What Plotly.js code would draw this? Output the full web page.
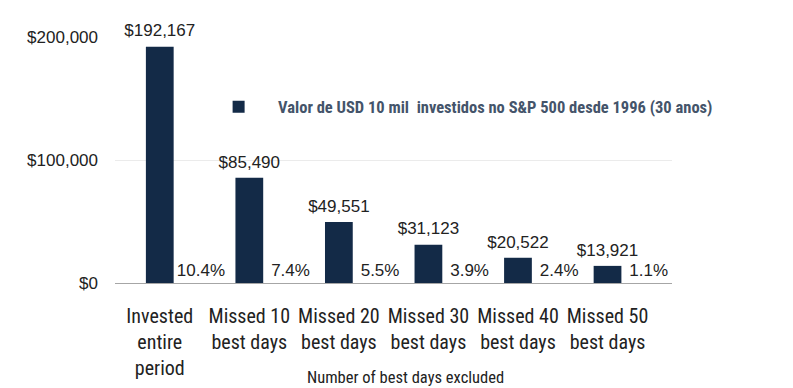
<!DOCTYPE html>
<html>
<head>
<meta charset="utf-8">
<script src="https://cdn.plot.ly/plotly-3.0.1.min.js"></script>
<style>html,body{margin:0;padding:0;background:#fff;}#chart{width:793px;height:388px;}</style>
</head>
<body>
<div id="chart"></div>
<script>
var categories = ["Invested<br>entire<br>period", "Missed 10<br>best days", "Missed 20<br>best days", "Missed 30<br>best days", "Missed 40<br>best days", "Missed 50<br>best days"];
var values = [192167, 85490, 49551, 31123, 20522, 13921];
var returns = [10.4, 7.4, 5.5, 3.9, 2.4, 1.1];
var seriesName = "Valor de USD 10 mil  investidos no S&P 500 desde 1996 (30 anos)";
var yTicks = [0, 100000, 200000];
var yTickText = ["$0", "$100,000", "$200,000"];
var xTitle = "Number of best days excluded";

var navy = "#132a47";
var labelFont = {family: "Liberation Sans, Arial, sans-serif", size: 17, color: "#222222"};

function money(v) { return "$" + v.toLocaleString("en-US"); }

var traces = [
  {
    type: "bar", x: categories, y: values, name: seriesName,
    marker: {color: navy, line: {width: 0}},
    width: 0.31, offset: -0.155,
    hoverinfo: "skip"
  },
  {
    type: "bar", x: categories, y: returns.map(function(r){ return r / 100; }),
    text: returns.map(function(r){ return r.toFixed(1) + "%"; }),
    textposition: "outside", constraintext: "none", cliponaxis: false,
    textfont: labelFont, outsidetextfont: labelFont,
    marker: {color: "rgba(0,0,0,0)", line: {width: 0}},
    width: 0.52, offset: 0.2, showlegend: false, hoverinfo: "skip"
  },
  {
    type: "scatter", mode: "markers+text", x: categories, y: values,
    text: values.map(money), textposition: "top center", textfont: labelFont,
    marker: {size: 8, opacity: 0}, cliponaxis: false,
    showlegend: false, hoverinfo: "skip"
  }
];

var layout = {
  width: 793, height: 388,
  margin: {l: 115, r: 121, t: 37, b: 105},
  paper_bgcolor: "#ffffff", plot_bgcolor: "#ffffff",
  barmode: "overlay",
  showlegend: true,
  legend: {
    x: 0.151, y: 0.786, xanchor: "left", yanchor: "top",
    itemwidth: 69, bgcolor: "rgba(0,0,0,0)",
    font: {family: "Roboto Condensed, Liberation Sans Narrow, Roboto, sans-serif", size: 16.5, color: "#44546a", weight: "bold"}
  },
  xaxis: {
    type: "category", showgrid: false, zeroline: false,
    showline: true, linecolor: "#a6a6a6", linewidth: 1,
    ticks: "", tickangle: 0, automargin: false, ticklabelstandoff: 15,
    tickfont: {family: "Roboto Condensed, Liberation Sans Narrow, sans-serif", size: 20, color: "#222222"},
    fixedrange: true
  },
  yaxis: {
    range: [0, 200000], tickvals: yTicks, ticktext: yTickText,
    showgrid: true, gridcolor: "#ebebeb", gridwidth: 1, zeroline: false,
    showline: false, ticks: "", ticklabelstandoff: 16,
    tickfont: {family: "Liberation Sans, Arial, sans-serif", size: 17, color: "#222222"},
    fixedrange: true
  },
  annotations: [
    {
      text: xTitle, xref: "paper", yref: "paper", x: 0.522, y: -0.384,
      xanchor: "center", yanchor: "middle", showarrow: false,
      font: {family: "Roboto Condensed, Liberation Sans Narrow, sans-serif", size: 16.5, color: "#222222"}
    }
  ]
};

Plotly.newPlot("chart", traces, layout, {displayModeBar: false, staticPlot: true});
</script>
</body>
</html>
